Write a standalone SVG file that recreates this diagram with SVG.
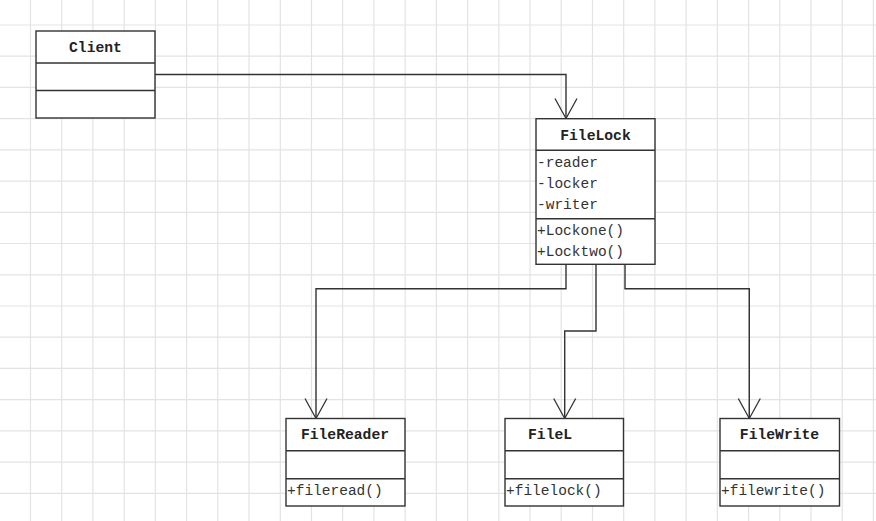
<svg xmlns="http://www.w3.org/2000/svg" width="876" height="521" viewBox="0 0 876 521">
<style>
.grid{stroke:#e3e3e3;stroke-width:1.2;fill:none}
.box{fill:#fff;stroke:#333;stroke-width:1.4}
.div{stroke:#333;stroke-width:1.4}
.conn{fill:none;stroke:#333;stroke-width:1.4}
.title{font-family:"Liberation Mono","DejaVu Sans Mono",monospace;font-size:14.7px;font-weight:bold;fill:#222;text-anchor:middle}
.mem{font-family:"Liberation Mono","DejaVu Sans Mono",monospace;font-size:14.5px;fill:#333}
</style>
<defs>
<marker id="open" markerUnits="userSpaceOnUse" markerWidth="24" markerHeight="24" refX="20" refY="0" orient="auto" overflow="visible">
<path d="M0,-11 L20,0 L0,11" fill="none" stroke="#333" stroke-width="1.3"/>
</marker>
</defs>
<rect width="876" height="521" fill="#fff"/>
<path class="grid" d="M30.5,0V521M61.7,0V521M92.9,0V521M124.2,0V521M155.4,0V521M186.6,0V521M217.8,0V521M249,0V521M280.3,0V521M311.5,0V521M342.7,0V521M373.9,0V521M405.1,0V521M436.4,0V521M467.6,0V521M498.8,0V521M530,0V521M561.2,0V521M592.5,0V521M623.7,0V521M654.9,0V521M686.1,0V521M717.3,0V521M748.6,0V521M779.8,0V521M811,0V521M842.2,0V521M873.4,0V521
M0,25H876M0,56.2H876M0,87.4H876M0,118.7H876M0,149.9H876M0,181.1H876M0,212.3H876M0,243.5H876M0,274.8H876M0,306H876M0,337.2H876M0,368.4H876M0,399.6H876M0,430.9H876M0,462.1H876M0,493.3H876"/>
<g id="connectors">
<path class="conn" d="M155,74.5H566V118.5" marker-end="url(#open)"/>
<path class="conn" d="M566,264.5V288.7H316V418.5" marker-end="url(#open)"/>
<path class="conn" d="M596,264.5V331H564.7V418.5" marker-end="url(#open)"/>
<path class="conn" d="M625,264.5V288.7H749.3V418.5" marker-end="url(#open)"/>
</g>
<g id="Client">
<rect class="box" x="36" y="31" width="119" height="87"/>
<line class="div" x1="36" y1="63" x2="155" y2="63"/>
<line class="div" x1="36" y1="90.5" x2="155" y2="90.5"/>
<text class="title" x="95.5" y="52">Client</text>
</g>
<g id="FileLock">
<rect class="box" x="536" y="118.7" width="119" height="145.6"/>
<line class="div" x1="536" y1="150.3" x2="655" y2="150.3"/>
<line class="div" x1="536" y1="218.7" x2="655" y2="218.7"/>
<text class="title" x="595.5" y="140">FileLock</text>
<text class="mem" x="537" y="167">-reader</text>
<text class="mem" x="537" y="188">-locker</text>
<text class="mem" x="537" y="209">-writer</text>
<text class="mem" x="537" y="235">+Lockone()</text>
<text class="mem" x="537" y="256">+Locktwo()</text>
</g>
<g id="FileReader">
<rect class="box" x="286" y="418.5" width="119" height="87.5"/>
<line class="div" x1="286" y1="450.7" x2="405" y2="450.7"/>
<line class="div" x1="286" y1="478.7" x2="405" y2="478.7"/>
<text class="title" x="345" y="439.3">FileReader</text>
<text class="mem" x="287" y="495">+fileread()</text>
</g>
<g id="FileL">
<rect class="box" x="505" y="418.5" width="118.5" height="87.5"/>
<line class="div" x1="505" y1="450.7" x2="623.5" y2="450.7"/>
<line class="div" x1="505" y1="478.7" x2="623.5" y2="478.7"/>
<text class="title" x="528" y="439.3" style="text-anchor:start">FileL</text>
<text class="mem" x="506" y="495">+filelock()</text>
</g>
<g id="FileWrite">
<rect class="box" x="720" y="418.5" width="119.5" height="87.5"/>
<line class="div" x1="720" y1="450.7" x2="839.5" y2="450.7"/>
<line class="div" x1="720" y1="478.7" x2="839.5" y2="478.7"/>
<text class="title" x="779.5" y="439.3">FileWrite</text>
<text class="mem" x="721" y="495">+filewrite()</text>
</g>
</svg>
